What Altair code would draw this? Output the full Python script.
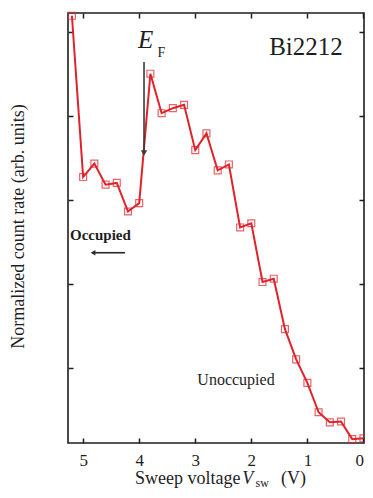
import altair as alt
import pandas as pd

# ---- data ----
sweep_v = [5.2, 5.0, 4.8, 4.6, 4.4, 4.2, 4.0, 3.8, 3.6, 3.4, 3.2, 3.0, 2.8, 2.6,
           2.4, 2.2, 2.0, 1.8, 1.6, 1.4, 1.2, 1.0, 0.8, 0.6, 0.4, 0.2, 0.0]
count_rate = [5.19, 3.27, 3.43, 3.18, 3.20, 2.86, 2.96, 4.50, 4.03, 4.09, 4.13,
              3.59, 3.79, 3.35, 3.42, 2.67, 2.72, 2.02, 2.06, 1.46, 1.10, 0.82,
              0.47, 0.35, 0.36, 0.15, 0.16]
x_ticks = [0, 1, 2, 3, 4, 5]
y_ticks = [1, 2, 3, 4, 5]
x_domain = [-0.01, 5.27]
y_domain = [0.104, 5.223]

# annotation texts (positions in data units)
ann_normal_text = ["Bi2212", "Unoccupied", "Sweep voltage", "(V)"]
ann_normal_x = [1.025, 2.273, 4.075, 1.47]
ann_normal_y = [4.723, 0.794, -0.385, -0.385]
ann_normal_size = [25, 16, 18, 18]
ann_normal_align = ["center", "center", "left", "left"]

ann_italic_text = ["E", "V"]
ann_italic_x = [4.021, 2.16]
ann_italic_y = [4.806, -0.385]
ann_italic_size = [25, 18]

ann_sub_text = ["F", "sw"]
ann_sub_x = [3.672, 1.925]
ann_sub_y = [4.699, -0.42]
ann_sub_size = [14, 12]

occ_text = ["Occupied"]
occ_x = [5.234]
occ_y = [2.520]

# arrows
ef_arrow_x = [3.914]
ef_arrow_y = [4.639]
ef_arrow_y2 = [3.59]
ef_head_y = [3.556]
occ_arrow_x = [4.253]
occ_arrow_x2 = [4.788]
occ_arrow_y = [2.369]
occ_head_x = [4.824]

RED = "#e0222a"
TXT = "#1e1e1e"
SERIF = "Liberation Serif"

df = pd.DataFrame({"v": sweep_v, "c": count_rate})

xs = alt.Scale(domain=x_domain, reverse=True, nice=False, zero=False)
ys = alt.Scale(domain=y_domain, nice=False, zero=False)


def tick_axis(orient, values):
    return alt.Axis(orient=orient, values=values, labels=False, ticks=True,
                    tickSize=5, tickWidth=1.5, tickColor=TXT, domain=False,
                    grid=False, offset=-5, title=None)


line = alt.Chart(df).mark_line(color=RED, strokeWidth=2).encode(
    x=alt.X("v:Q", scale=xs,
            axis=alt.Axis(orient="bottom", values=x_ticks, format="d",
                          ticks=False, domain=False, grid=False,
                          labelFont=SERIF, labelFontSize=17, labelColor=TXT,
                          labelPadding=9, title=None)),
    y=alt.Y("c:Q", scale=ys,
            axis=alt.Axis(orient="left", values=y_ticks, labels=False,
                          ticks=False, domain=False, grid=False,
                          title="Normalized count rate (arb. units)",
                          titleFont=SERIF, titleFontSize=18,
                          titleFontWeight="normal", titleColor=TXT,
                          titleAngle=270, titleAlign="center",
                          titleBaseline="middle", titleX=-50, titleY=213)),
)

points = alt.Chart(df).mark_point(shape="square", filled=False, color=RED,
                                  size=48, strokeWidth=1.2).encode(
    x=alt.X("v:Q", scale=xs, axis=tick_axis("top", x_ticks)),
    y=alt.Y("c:Q", scale=ys, axis=tick_axis("right", y_ticks)),
)

ticks_bl = alt.Chart(df).mark_point(opacity=0).encode(
    x=alt.X("v:Q", scale=xs, axis=tick_axis("bottom", x_ticks)),
    y=alt.Y("c:Q", scale=ys, axis=tick_axis("left", y_ticks)),
)

normal_df = pd.DataFrame({"t": ann_normal_text, "x": ann_normal_x,
                          "y": ann_normal_y, "s": ann_normal_size,
                          "a": ann_normal_align})


def text_layer(data, align, **kw):
    return alt.Chart(data).mark_text(align=align, baseline="alphabetic",
                                     font=SERIF, color=TXT, **kw).encode(
        x=alt.X("x:Q", scale=xs, axis=None),
        y=alt.Y("y:Q", scale=ys, axis=None),
        text="t:N",
        size=alt.Size("s:Q", scale=None, legend=None),
    )


normal_center = text_layer(normal_df[normal_df.a == "center"], "center")
normal_left = text_layer(normal_df[normal_df.a == "left"], "left")
italic = text_layer(pd.DataFrame({"t": ann_italic_text, "x": ann_italic_x,
                                  "y": ann_italic_y, "s": ann_italic_size}),
                    "left", fontStyle="italic")
subs = text_layer(pd.DataFrame({"t": ann_sub_text, "x": ann_sub_x,
                                "y": ann_sub_y, "s": ann_sub_size}), "left")
occ = text_layer(pd.DataFrame({"t": occ_text, "x": occ_x, "y": occ_y,
                               "s": [15]}), "left", fontWeight="bold")

ef_rule = alt.Chart(pd.DataFrame({"x": ef_arrow_x, "y": ef_arrow_y,
                                  "y2": ef_arrow_y2})).mark_rule(
    color="#3a3a3a", strokeWidth=1.6).encode(
    x=alt.X("x:Q", scale=xs, axis=None),
    y=alt.Y("y:Q", scale=ys, axis=None), y2="y2:Q")
ef_head = alt.Chart(pd.DataFrame({"x": ef_arrow_x, "y": ef_head_y})).mark_point(
    shape="triangle-down", filled=True, color="#3a3a3a", size=40, opacity=1).encode(
    x=alt.X("x:Q", scale=xs, axis=None),
    y=alt.Y("y:Q", scale=ys, axis=None))
occ_rule = alt.Chart(pd.DataFrame({"x": occ_arrow_x, "x2": occ_arrow_x2,
                                   "y": occ_arrow_y})).mark_rule(
    color="#2a2a2a", strokeWidth=1.6).encode(
    x=alt.X("x:Q", scale=xs, axis=None), x2="x2:Q",
    y=alt.Y("y:Q", scale=ys, axis=None))
occ_head = alt.Chart(pd.DataFrame({"x": occ_head_x, "y": occ_arrow_y})).mark_point(
    shape="triangle-left", filled=True, color="#2a2a2a", size=30, opacity=1).encode(
    x=alt.X("x:Q", scale=xs, axis=None),
    y=alt.Y("y:Q", scale=ys, axis=None))

chart = alt.layer(
    line, points, ticks_bl, normal_center, normal_left, italic, subs, occ,
    ef_rule, ef_head, occ_rule, occ_head,
).resolve_axis(x="independent", y="independent").properties(
    width=296, height=430,
    autosize=alt.AutoSizeParams(type="none"),
    padding={"left": 60, "top": 5, "right": 1, "bottom": 46},
    background="white",
).configure_view(stroke=TXT, strokeWidth=1.6)

chart.save("out.html", embed_options={"renderer": "svg", "actions": False})
